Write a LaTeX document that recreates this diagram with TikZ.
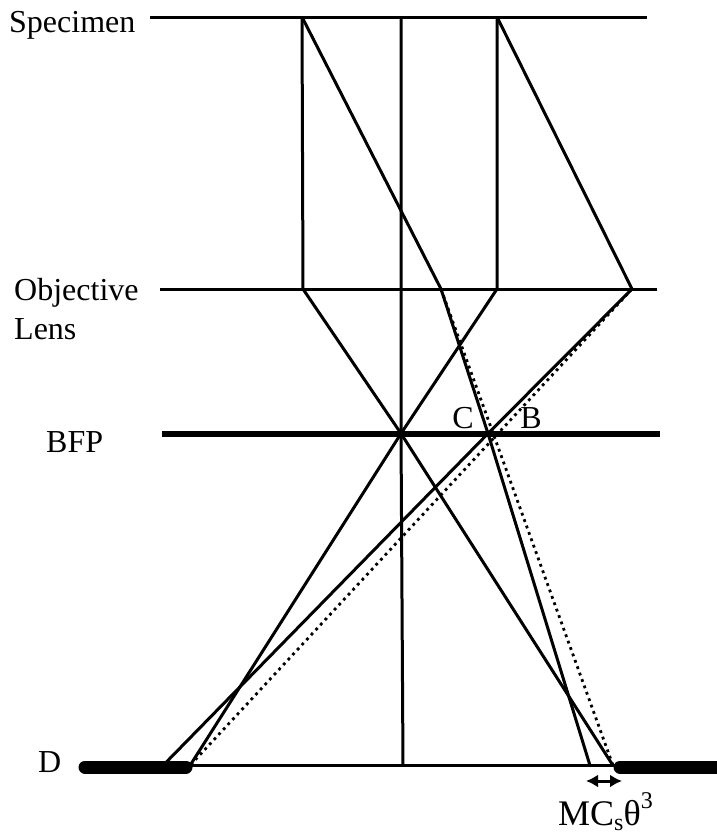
\documentclass[tikz,border=0pt]{standalone}
\usepackage{fontspec}
\setmainfont{Liberation Serif}
\usetikzlibrary{arrows.meta}
\begin{document}
\begin{tikzpicture}[x=1pt,y=-1pt,
  ray/.style={line width=3pt,black,line join=round},
  plane/.style={line width=3pt,black},
  thickplane/.style={line width=6pt,black},
  detector/.style={line width=13pt,line cap=round,black},
  dotray/.style={line width=2.8pt,dash pattern=on 2.8pt off 4pt,black},
  lab/.style={inner sep=0pt,font=\fontsize{32pt}{32pt}\selectfont,black}]
\useasboundingbox (0,0) rectangle (717,838);
% key points
\coordinate (s1) at (302,17); \coordinate (s2) at (401,17); \coordinate (s3) at (497,17);
\coordinate (sl) at (150,17); \coordinate (sr) at (647,17);
\coordinate (ol) at (160,289); \coordinate (or) at (657,289);
\coordinate (o1) at (303,289); \coordinate (o2) at (441,289); \coordinate (o3) at (497,289); \coordinate (o4) at (632,289);
\coordinate (bl) at (162,433.5); \coordinate (br) at (660,433.5);
\coordinate (bc) at (401,433.5); \coordinate (bo) at (488,433.5);
\coordinate (dl) at (85,767); \coordinate (dm1) at (186,767); \coordinate (dm2) at (620,767); \coordinate (dr) at (717,767);
\coordinate (tl) at (190,765.5); \coordinate (tr) at (615,765.5);
\coordinate (d0) at (403,765.5); \coordinate (da) at (163,765.5); \coordinate (db) at (190,765.5);
\coordinate (dc) at (590,765.5); \coordinate (dd) at (613,765.5);
\coordinate (a1) at (586,781); \coordinate (a2) at (622,781);
% planes
\draw[plane] (sl) -- (sr);
\draw[plane] (ol) -- (or);
\draw[thickplane] (bl) -- (br);
\draw[plane] (tl) -- (tr);
\draw[detector] (dl) -- (dm1);
\draw[detector] (dm2) -- (dr);
% rays
\draw[ray] (s1) -- (o1) -- (bc) -- (dd);
\draw[ray] (s2) -- (bc) -- (d0);
\draw[ray] (s3) -- (o3) -- (bc) -- (db);
\draw[ray] (s1) -- (o2) -- (bo) -- (dc);
\draw[ray] (s3) -- (o4) -- (bo) -- (da);
\draw[dotray] (o2) -- (dd);
\draw[dotray] (o4) -- (db);
% arrow
\draw[line width=3pt,{Latex[length=12pt,width=13pt]}-{Latex[length=12pt,width=13pt]}] (a1) -- (a2);
% labels
\node[lab,anchor=base west] (tspec) at (9,32) {Specimen};
\node[lab,anchor=base west] (tobj) at (14,300) {Objective};
\node[lab,anchor=base west] (tlens) at (14,339) {Lens};
\node[lab,anchor=base west] (tbfp) at (46,452) {BFP};
\node[lab,anchor=base west] (td) at (38,772) {D};
\node[lab,anchor=base] (tc) at (463,428) {C};
\node[lab,anchor=base] (tb) at (531,428) {B};
\node[lab,anchor=base west,font=\fontsize{36pt}{36pt}\selectfont] (tm) at (558,825) {MC\raisebox{-5pt}{\fontsize{24pt}{24pt}\selectfont s}θ\raisebox{17pt}{\fontsize{24pt}{24pt}\selectfont 3}};
\end{tikzpicture}
\end{document}
